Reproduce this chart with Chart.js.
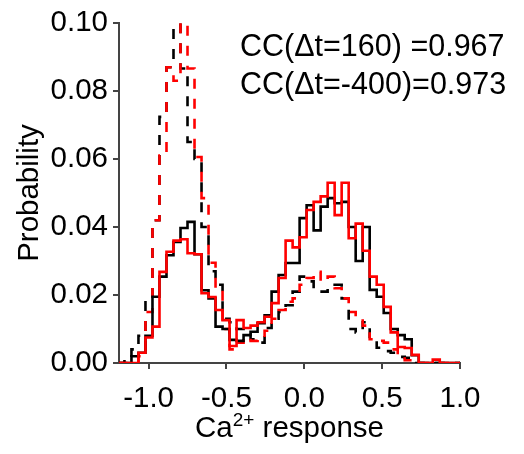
<!DOCTYPE html>
<html>
<head>
<meta charset="utf-8">
<script src="https://cdn.jsdelivr.net/npm/chart.js@4/dist/chart.umd.min.js"></script>
<style>
  html, body { margin: 0; padding: 0; background: #fff; }
</style>
</head>
<body>
<canvas id="hist" width="524" height="454"></canvas>
<script>
// Histogram bins: left edge of first bin and bin width (x = Ca2+ response)
const BIN_START = -1.2;
const BIN_WIDTH = 0.045;

// Probability per bin
const blackSolid = [
  0, 0, 0.002, 0.003, 0.008, 0.0195, 0.0254, 0.0317, 0.0356, 0.0397,
  0.0415, 0.032, 0.0214, 0.019, 0.0107, 0.010, 0.0068, 0.0065, 0.0082, 0.0092,
  0.0117, 0.014, 0.021, 0.0259, 0.0294, 0.0294, 0.0426, 0.0464, 0.039, 0.046,
  0.0485, 0.047, 0.0474, 0.040, 0.030, 0.040, 0.0215, 0.0195, 0.0147, 0.010,
  0.0082, 0.007, 0.0023, 0, 0, 0, 0, 0, 0,
];
const redSolid = [
  0, 0, 0, 0.003, 0.0075, 0.0107, 0.0268, 0.0327, 0.036, 0.0364,
  0.0323, 0.032, 0.0205, 0.0194, 0.0156, 0.0126, 0.005, 0.0126, 0.0103, 0.011,
  0.012, 0.0136, 0.0176, 0.025, 0.036, 0.034, 0.037, 0.045, 0.0474, 0.049,
  0.053, 0.0435, 0.053, 0.0367, 0.041, 0.033, 0.0254, 0.023, 0.0165, 0.009,
  0.0047, 0.0044, 0.0024, 0, 0, 0.001, 0, 0, 0,
];
const blackDashed = [
  0, 0.001, 0.004, 0.008, 0.0195, 0.042, 0.0724, 0.087, 0.0995, 0.0866,
  0.065, 0.060, 0.040, 0.027, 0.023, 0.013, 0.012, 0.010, 0.0085, 0.007,
  0.006, 0.0103, 0.013, 0.015, 0.017, 0.021, 0.0254, 0.024, 0.021, 0.021,
  0.022, 0.023, 0.019, 0.010, 0.009, 0.012, 0.007, 0.0045, 0.0035, 0.003,
  0.0018, 0.0015, 0, 0, 0, 0, 0, 0, 0,
];
const redDashed = [
  0, 0, 0, 0.002, 0.015, 0.042, 0.061, 0.087, 0.083, 0.100,
  0.0866, 0.0606, 0.0485, 0.0295, 0.022, 0.010, 0.004, 0.006, 0.0075, 0.0065,
  0.0075, 0.0095, 0.013, 0.0156, 0.018, 0.019, 0.023, 0.025, 0.0268, 0.024,
  0.0254, 0.022, 0.019, 0.015, 0.013, 0.011, 0.007, 0.0065, 0.006, 0.004,
  0.0018, 0.0008, 0, 0, 0, 0, 0, 0, 0,
];

const X_TICKS = [-1.0, -0.5, 0.0, 0.5, 1.0];
const Y_TICKS = [0, 0.02, 0.04, 0.06, 0.08, 0.10];
const ANNOTATION = ['CC(\u0394t=160) =0.967', 'CC(\u0394t=-400)=0.973'];
const Y_TITLE = 'Probability';

const FONT_FAMILY = '"Liberation Sans", Arial, Helvetica, sans-serif';
const FONT_SIZE = 29.5;
const NOTE_SIZE = 30.5;
const AXIS_COLOR = '#444444';

// step outline: one point per bin left edge, plus the closing right edge
function stepPoints(values) {
  const pts = values.map((v, i) => ({ x: BIN_START + i * BIN_WIDTH, y: v }));
  pts.push({ x: BIN_START + values.length * BIN_WIDTH, y: values[values.length - 1] });
  return pts;
}

function histDataset(label, values, color, dashed) {
  return {
    label,
    data: stepPoints(values),
    borderColor: color,
    borderWidth: 2.6,
    borderDash: dashed ? [10, 10] : [],
    borderJoinStyle: 'miter',
    stepped: true,
    fill: false,
    pointRadius: 0,
    tension: 0,
  };
}

const textPlugin = {
  id: 'figureText',
  afterDraw(chart) {
    const ctx = chart.ctx;
    const area = chart.chartArea;
    ctx.save();
    ctx.fillStyle = '#000';
    ctx.textBaseline = 'alphabetic';

    // correlation annotation, top right
    ctx.font = `${NOTE_SIZE}px ${FONT_FAMILY}`;
    ctx.textAlign = 'left';
    ANNOTATION.forEach((line, i) => ctx.fillText(line, 240, 56 + i * 38));

    // x title: Ca^{2+} response
    const supFont = `${Math.round(FONT_SIZE * 0.66)}px ${FONT_FAMILY}`;
    const mainFont = `${FONT_SIZE}px ${FONT_FAMILY}`;
    ctx.font = mainFont;
    const wCa = ctx.measureText('Ca').width;
    const wRest = ctx.measureText(' response').width;
    ctx.font = supFont;
    const wSup = ctx.measureText('2+').width;
    const total = wCa + wSup + wRest;
    let x = (area.left + area.right) / 2 - total / 2;
    const base = 437;
    ctx.font = mainFont;
    ctx.fillText('Ca', x, base);
    x += wCa;
    ctx.font = supFont;
    ctx.fillText('2+', x, base - 11);
    x += wSup;
    ctx.font = mainFont;
    ctx.fillText(' response', x, base);

    // y title, rotated
    ctx.translate(38, (area.top + area.bottom) / 2);
    ctx.rotate(-Math.PI / 2);
    ctx.textAlign = 'center';
    ctx.fillText(Y_TITLE, 0, 0);
    ctx.restore();
  },
};

new Chart(document.getElementById('hist'), {
  type: 'line',
  data: {
    datasets: [
      histDataset('red solid', redSolid, '#ff0000', false),
      histDataset('black solid', blackSolid, '#000000', false),
      histDataset('red dashed', redDashed, '#ff0000', true),
      histDataset('black dashed', blackDashed, '#000000', true),
    ],
  },
  options: {
    responsive: false,
    animation: false,
    devicePixelRatio: 1,
    layout: { padding: { top: 23, right: 64, left: 0, bottom: 0 } },
    plugins: { legend: { display: false }, tooltip: { enabled: false } },
    scales: {
      x: {
        type: 'linear',
        min: -1.19,
        max: 1.0,
        afterFit: (s) => { s.height = 91; },
        afterBuildTicks: (s) => { s.ticks = X_TICKS.map((v) => ({ value: v })); },
        ticks: {
          color: '#000',
          font: { family: FONT_FAMILY, size: FONT_SIZE },
          padding: 12,
          maxRotation: 0,
          autoSkip: false,
          callback: (v) => Number(v).toFixed(1),
        },
        grid: { drawOnChartArea: false, drawTicks: true, tickLength: 6, color: AXIS_COLOR, lineWidth: 2 },
        border: { color: AXIS_COLOR, width: 2 },
      },
      y: {
        type: 'linear',
        min: 0,
        max: 0.10,
        afterFit: (s) => { s.width = 119; },
        afterBuildTicks: (s) => { s.ticks = Y_TICKS.map((v) => ({ value: v })); },
        ticks: {
          color: '#000',
          font: { family: FONT_FAMILY, size: FONT_SIZE },
          padding: 5,
          callback: (v) => Number(v).toFixed(2),
        },
        grid: { drawOnChartArea: false, drawTicks: true, tickLength: 6, color: AXIS_COLOR, lineWidth: 2 },
        border: { color: AXIS_COLOR, width: 2 },
      },
    },
  },
  plugins: [textPlugin],
});
</script>
</body>
</html>
